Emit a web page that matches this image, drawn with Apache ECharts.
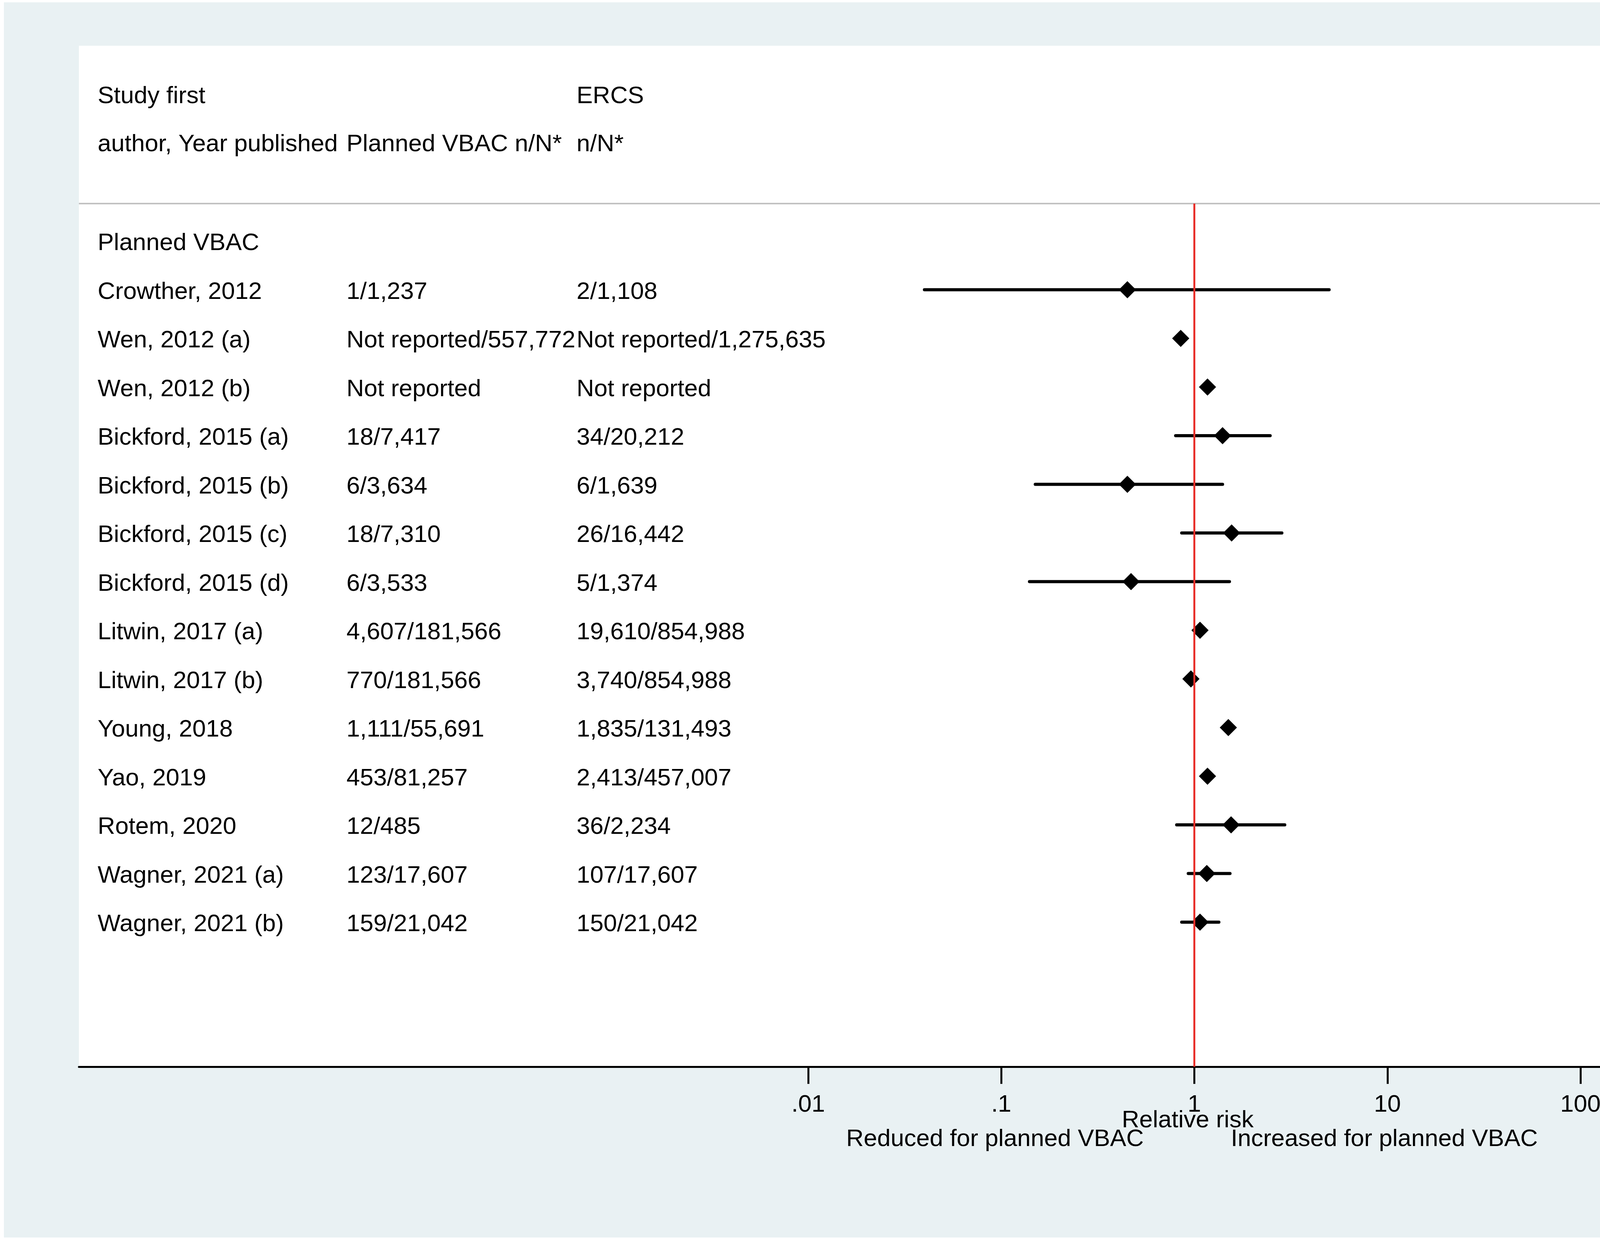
<!DOCTYPE html>
<html lang="en">
<head>
  <meta charset="UTF-8">
  <title>Forest plot - planned VBAC vs ERCS</title>
  <script src="https://cdn.jsdelivr.net/npm/echarts@6/dist/echarts.min.js"></script>
  <style>
    html, body { margin: 0; padding: 0; background: #fff; }
  </style>
</head>
<body>

<div id="chart" style="width: 4328px; height: 3176px;"></div>

<script>
  // table columns
  var headTop = ['Study first', '', 'ERCS'];
  var headBottom = ['author, Year published', 'Planned VBAC n/N*', 'n/N*'];
  var groupLabel = 'Planned VBAC';
  var studies = ['Crowther, 2012', 'Wen, 2012 (a)', 'Wen, 2012 (b)', 'Bickford, 2015 (a)', 'Bickford, 2015 (b)',
    'Bickford, 2015 (c)', 'Bickford, 2015 (d)', 'Litwin, 2017 (a)', 'Litwin, 2017 (b)', 'Young, 2018',
    'Yao, 2019', 'Rotem, 2020', 'Wagner, 2021 (a)', 'Wagner, 2021 (b)'];
  var vbacN = ['1/1,237', 'Not reported/557,772', 'Not reported', '18/7,417', '6/3,634', '18/7,310', '6/3,533',
    '4,607/181,566', '770/181,566', '1,111/55,691', '453/81,257', '12/485', '123/17,607', '159/21,042'];
  var ercsN = ['2/1,108', 'Not reported/1,275,635', 'Not reported', '34/20,212', '6/1,639', '26/16,442', '5/1,374',
    '19,610/854,988', '3,740/854,988', '1,835/131,493', '2,413/457,007', '36/2,234', '107/17,607', '150/21,042'];

  // relative risk and 95% CI (null = no visible interval)
  var rr = [0.45, 0.85, 1.17, 1.40, 0.45, 1.56, 0.47, 1.07, 0.96, 1.50, 1.17, 1.55, 1.16, 1.07];
  var lo = [0.04, null, null, 0.80, 0.15, 0.86, 0.14, null, null, null, null, 0.81, 0.93, 0.86];
  var hi = [4.99, null, null, 2.47, 1.40, 2.84, 1.52, null, null, null, null, 2.94, 1.53, 1.34];

  var tickText = { 0.01: '.01', 0.1: '.1', 1: '1', 10: '10', 100: '100' };
  var axisTitle = 'Relative risk';
  var leftNote = 'Reduced for planned VBAC';
  var rightNote = 'Increased for planned VBAC';

  var FONT = 'Liberation Sans';
  var FS = 62;
  var colX = [250, 887, 1476];

  var myChart = echarts.init(document.getElementById('chart'));

  function txt(s, x, y, align) {
    return {
      type: 'text',
      style: {
        text: s, x: x, y: y, fill: '#000', fontSize: FS, fontFamily: FONT,
        align: align || 'left', textAlign: align || 'left',
        verticalAlign: 'middle', textVerticalAlign: 'middle'
      }
    };
  }

  // row index 0 is the group header, studies start at 1
  var rowData = [[1, 0]];
  studies.forEach(function (s, i) { rowData.push([1, i + 1]); });

  var ciData = [];
  rr.forEach(function (v, i) {
    if (lo[i] != null) ciData.push([lo[i], hi[i], i + 1]);
  });
  var pointData = rr.map(function (v, i) { return [v, i + 1]; });

  var graphics = [
    { type: 'rect', z: -100, shape: { x: 10, y: 6, width: 4308, height: 3161 }, style: { fill: '#e9f1f3' } },
    { type: 'rect', z: -90, shape: { x: 202, y: 117, width: 3952, height: 2613 }, style: { fill: '#fff' } },
    { type: 'line', z: -80, shape: { x1: 202, y1: 521, x2: 4154, y2: 521 }, style: { stroke: '#c2c2c2', lineWidth: 4 } },
    txt(leftNote, 2928, 2916, 'right'),
    txt(rightNote, 3151, 2916, 'left')
  ];
  headTop.forEach(function (s, i) { if (s) graphics.push(txt(s, colX[i], 247)); });
  headBottom.forEach(function (s, i) { graphics.push(txt(s, colX[i], 370)); });

  var option = {
    animation: false,
    textStyle: { fontFamily: FONT },
    graphic: { elements: graphics },
    grid: [
      { left: 202, right: 174, top: 521, bottom: 446 },
      { left: 2069, right: 282, top: 521, bottom: 446 }
    ],
    xAxis: [
      {
        gridIndex: 0, type: 'value', min: 0, max: 1, position: 'bottom',
        axisLine: { show: true, onZero: false, lineStyle: { color: '#000', width: 5 } },
        axisTick: { show: false }, axisLabel: { show: false }, splitLine: { show: false }
      },
      {
        gridIndex: 1, type: 'log', logBase: 10, min: 0.01, max: 100, position: 'bottom',
        axisLine: { show: false, onZero: false },
        axisTick: { show: true, length: 44, lineStyle: { color: '#000', width: 5 } },
        axisLabel: {
          margin: 67, fontSize: FS, color: '#000', fontFamily: FONT,
          formatter: function (v) {
            var k = Number(Number(v).toPrecision(6));
            return tickText[k] != null ? tickText[k] : String(k);
          }
        },
        splitLine: { show: false },
        name: axisTitle, nameLocation: 'middle', nameGap: 107, nameMoveOverlap: false,
        nameTextStyle: { fontSize: FS, color: '#000', fontFamily: FONT, padding: [0, 34, 0, 0] }
      }
    ],
    yAxis: [
      { gridIndex: 0, type: 'value', show: false, min: -0.771, max: 16.972, inverse: true, splitLine: { show: false } },
      { gridIndex: 1, type: 'value', show: false, min: -0.771, max: 16.972, inverse: true, splitLine: { show: false } }
    ],
    series: [
      {
        name: 'table', type: 'custom', xAxisIndex: 1, yAxisIndex: 1, silent: true,
        data: rowData,
        encode: { x: 0, y: 1 },
        renderItem: function (params, api) {
          var row = api.value(1);
          var y = api.coord([1, row])[1] + 6;
          if (row === 0) {
            return { type: 'group', children: [txt(groupLabel, colX[0], y)] };
          }
          var i = row - 1;
          return {
            type: 'group',
            children: [txt(studies[i], colX[0], y), txt(vbacN[i], colX[1], y), txt(ercsN[i], colX[2], y)]
          };
        }
      },
      {
        name: 'ci', type: 'custom', xAxisIndex: 1, yAxisIndex: 1, silent: true, z: 3,
        data: ciData,
        encode: { x: [0, 1], y: 2 },
        renderItem: function (params, api) {
          var a = api.coord([api.value(0), api.value(2)]);
          var b = api.coord([api.value(1), api.value(2)]);
          return {
            type: 'line',
            shape: { x1: a[0], y1: a[1], x2: b[0], y2: b[1] },
            style: { stroke: '#000', lineWidth: 8, lineCap: 'round' }
          };
        }
      },
      {
        name: 'rr', type: 'scatter', xAxisIndex: 1, yAxisIndex: 1, silent: true, z: 4,
        data: pointData,
        symbol: 'diamond', symbolSize: 44,
        itemStyle: { color: '#000', opacity: 1 },
        markLine: {
          silent: true, symbol: 'none', label: { show: false },
          lineStyle: { color: '#e8302a', width: 5, type: 'solid' },
          data: [{ xAxis: 1 }]
        }
      }
    ]
  };

  myChart.setOption(option);
</script>

</body>
</html>
